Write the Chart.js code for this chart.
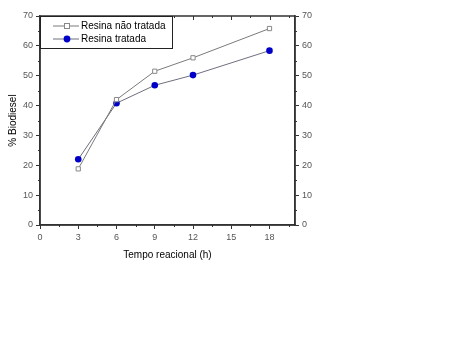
<!DOCTYPE html>
<html>
<head>
<meta charset="utf-8">
<script src="https://cdn.jsdelivr.net/npm/chart.js@4/dist/chart.umd.min.js"></script>
<style>
  html, body { margin: 0; padding: 0; background: #fff; }
  #wrap { width: 467px; height: 338px; }
</style>
</head>
<body>
<div id="wrap"><canvas id="chart" width="467" height="338"></canvas></div>
<script>
// reaction time (h) and biodiesel yield (%)
const horas = [3, 6, 9, 12, 18];
const naoTratada = [18.8, 42.0, 51.5, 56.0, 65.8];
const tratada = [22.0, 40.8, 46.8, 50.2, 58.4];
const xTicks = [0, 3, 6, 9, 12, 15, 18];
const yTicks = [0, 10, 20, 30, 40, 50, 60, 70];

const FONT = "'Liberation Sans', Arial, sans-serif";
const AXIS = "#333";

const pts = (vals) => horas.map((h, i) => ({ x: h, y: vals[i] }));

// minor ticks, box frame and the in-plot legend
const extras = {
  id: "extras",
  afterDraw(chart) {
    const { ctx, chartArea: a, scales } = chart;
    ctx.save();
    ctx.strokeStyle = AXIS;
    ctx.lineWidth = 1;
    // minor ticks
    ctx.beginPath();
    for (let v = 5; v < 70; v += 10) {
      const y = Math.round(scales.y.getPixelForValue(v)) + 0.5;
      ctx.moveTo(a.left - 2, y); ctx.lineTo(a.left, y);
      ctx.moveTo(a.right, y); ctx.lineTo(a.right + 2, y);
    }
    for (let v = 1.5; v < 20; v += 3) {
      const x = Math.round(scales.x.getPixelForValue(v)) + 0.5;
      ctx.moveTo(x, a.bottom); ctx.lineTo(x, a.bottom + 2);
      ctx.moveTo(x, a.top); ctx.lineTo(x, a.top + 2);
    }
    // top axis major ticks (inward)
    xTicks.forEach(v => {
      const x = Math.round(scales.x.getPixelForValue(v)) + 0.5;
      ctx.moveTo(x, a.top); ctx.lineTo(x, a.top + 4);
    });
    ctx.stroke();
    // frame
    ctx.lineWidth = 1.5;
    ctx.strokeRect(a.left, a.top, a.right - a.left, a.bottom - a.top);

    // legend
    const lx = a.left, ly = a.top, lw = 132, lh = 32;
    ctx.fillStyle = "#fff";
    ctx.fillRect(lx, ly, lw, lh);
    ctx.lineWidth = 1;
    ctx.strokeStyle = "#222";
    ctx.strokeRect(lx + 0.5, ly + 0.5, lw, lh);
    chart.data.datasets.forEach((ds, i) => {
      const cy = ly + 10 + i * 13;
      ctx.strokeStyle = ds.borderColor;
      ctx.beginPath();
      ctx.moveTo(lx + 13, cy); ctx.lineTo(lx + 39, cy);
      ctx.stroke();
      if (ds.pointStyle === "rect") {
        ctx.fillStyle = "#fff";
        ctx.fillRect(lx + 24.5, cy - 2.5, 5, 5);
        ctx.strokeStyle = ds.pointBorderColor;
        ctx.strokeRect(lx + 24.5, cy - 2.5, 5, 5);
      } else {
        ctx.fillStyle = ds.pointBackgroundColor;
        ctx.beginPath();
        ctx.arc(lx + 27, cy, 3.4, 0, Math.PI * 2);
        ctx.fill();
      }
      ctx.fillStyle = "#000";
      ctx.font = "10px " + FONT;
      ctx.textBaseline = "middle";
      ctx.fillText(ds.label, lx + 41, cy + 0.5);
    });
    ctx.restore();
  }
};

new Chart(document.getElementById("chart"), {
  type: "line",
  data: {
    datasets: [
      {
        label: "Resina não tratada",
        data: pts(naoTratada),
        borderColor: "#7a7a7a",
        borderWidth: 1,
        pointStyle: "rect",
        pointRadius: 3,
        pointBackgroundColor: "#fff",
        pointBorderColor: "#888",
        pointBorderWidth: 1,
        tension: 0
      },
      {
        label: "Resina tratada",
        data: pts(tratada),
        borderColor: "#6e6e7e",
        borderWidth: 1,
        pointStyle: "circle",
        pointRadius: 3.3,
        pointBackgroundColor: "#0000c8",
        pointBorderColor: "#0000c8",
        pointBorderWidth: 0,
        tension: 0
      }
    ]
  },
  options: {
    responsive: false,
    animation: false,
    layout: { padding: { left: 3, top: 16, right: 137, bottom: 73 } },
    plugins: { legend: { display: false }, tooltip: { enabled: false } },
    scales: {
      x: {
        type: "linear",
        min: 0, max: 20,
        afterBuildTicks: (s) => { s.ticks = xTicks.map(v => ({ value: v })); },
        afterFit: (s) => { s.height = 40; },
        border: { color: AXIS, width: 1.5 },
        grid: { drawOnChartArea: false, tickLength: 4, color: AXIS },
        ticks: { color: "#555", font: { family: FONT, size: 9 }, padding: 3, maxRotation: 0 },
        title: { display: true, text: "Tempo reacional (h)", color: "#000", font: { family: FONT, size: 10 }, padding: { top: 7 } }
      },
      y: {
        min: 0, max: 70,
        afterBuildTicks: (s) => { s.ticks = yTicks.map(v => ({ value: v })); },
        afterFit: (s) => { s.width = 37; },
        border: { color: AXIS, width: 1.5 },
        grid: { drawOnChartArea: false, tickLength: 4, color: AXIS },
        ticks: { color: "#555", font: { family: FONT, size: 9 }, padding: 3 },
        title: { display: true, text: "% Biodiesel", color: "#000", font: { family: FONT, size: 10 }, padding: { bottom: 2 } }
      },
      y2: {
        position: "right",
        min: 0, max: 70,
        afterBuildTicks: (s) => { s.ticks = yTicks.map(v => ({ value: v })); },
        afterFit: (s) => { s.width = 35; },
        border: { color: AXIS, width: 1.5 },
        grid: { drawOnChartArea: false, tickLength: 4, color: AXIS },
        ticks: { color: "#555", font: { family: FONT, size: 9 }, padding: 3 }
      }
    }
  },
  plugins: [extras]
});
</script>
</body>
</html>
